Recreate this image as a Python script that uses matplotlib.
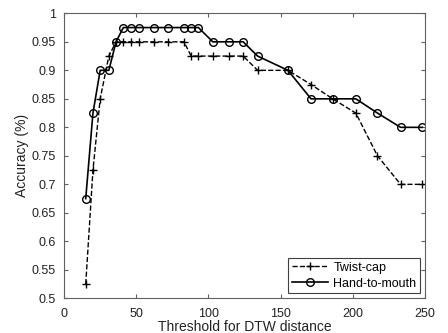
import matplotlib
matplotlib.use("Agg")
import matplotlib.pyplot as plt

plt.rcParams['font.family'] = ['Liberation Sans', 'DejaVu Sans']

# DTW thresholds (x) and accuracies
threshold = [15, 20, 25, 31, 36, 41, 46, 52, 62, 72, 83, 88, 93,
             103, 114, 124, 134, 155, 171, 186, 202, 217, 233, 248]
twist_cap = [0.525, 0.725, 0.85, 0.925, 0.95, 0.95, 0.95, 0.95, 0.95, 0.95, 0.95, 0.925, 0.925,
             0.925, 0.925, 0.925, 0.9, 0.9, 0.875, 0.85, 0.825, 0.75, 0.7, 0.7]
hand_to_mouth = [0.675, 0.825, 0.9, 0.9, 0.95, 0.975, 0.975, 0.975, 0.975, 0.975, 0.975, 0.975, 0.975,
                 0.95, 0.95, 0.95, 0.925, 0.9, 0.85, 0.85, 0.85, 0.825, 0.8, 0.8]
xticks = [0, 50, 100, 150, 200, 250]
yticks = [0.5, 0.55, 0.6, 0.65, 0.7, 0.75, 0.8, 0.85, 0.9, 0.95, 1]
ytick_labels = ['0.5', '0.55', '0.6', '0.65', '0.7', '0.75', '0.8', '0.85', '0.9', '0.95', '1']

fig = plt.figure(figsize=(4.48, 3.33), dpi=100)
ax = fig.add_axes([0.143, 0.104, 0.806, 0.856])

ax.plot(threshold, twist_cap, 'k--', marker='+', markersize=6, linewidth=1, label='Twist-cap')
ax.plot(threshold, hand_to_mouth, 'k-', marker='o', markersize=5.5, markerfacecolor='none',
        markeredgewidth=1, linewidth=1.2, label='Hand-to-mouth')

ax.set_xlim(0, 250)
ax.set_ylim(0.5, 1)
ax.set_xticks(xticks)
ax.set_yticks(yticks)
ax.set_yticklabels(ytick_labels)
ax.tick_params(direction='in', top=True, right=True, labelsize=9, length=3, colors='#606060',
               labelcolor='#222222')
ax.tick_params(axis='x', pad=7)
ax.tick_params(axis='y', pad=6)
for s in ax.spines.values():
    s.set_color('#606060')
    s.set_linewidth(0.8)

ax.set_xlabel('Threshold for DTW distance', fontsize=10, color='#222222', labelpad=0)
ax.set_ylabel('Accuracy (%)', fontsize=10, color='#222222', labelpad=2)

leg = ax.legend(loc='lower right', fontsize=9, fancybox=False, framealpha=1,
                edgecolor='#404040', borderaxespad=0.4, handlelength=2.9,
                borderpad=0.3, labelspacing=0.3, handletextpad=0.4)
leg.get_frame().set_linewidth(0.8)

fig.savefig('out.png', dpi=100)
